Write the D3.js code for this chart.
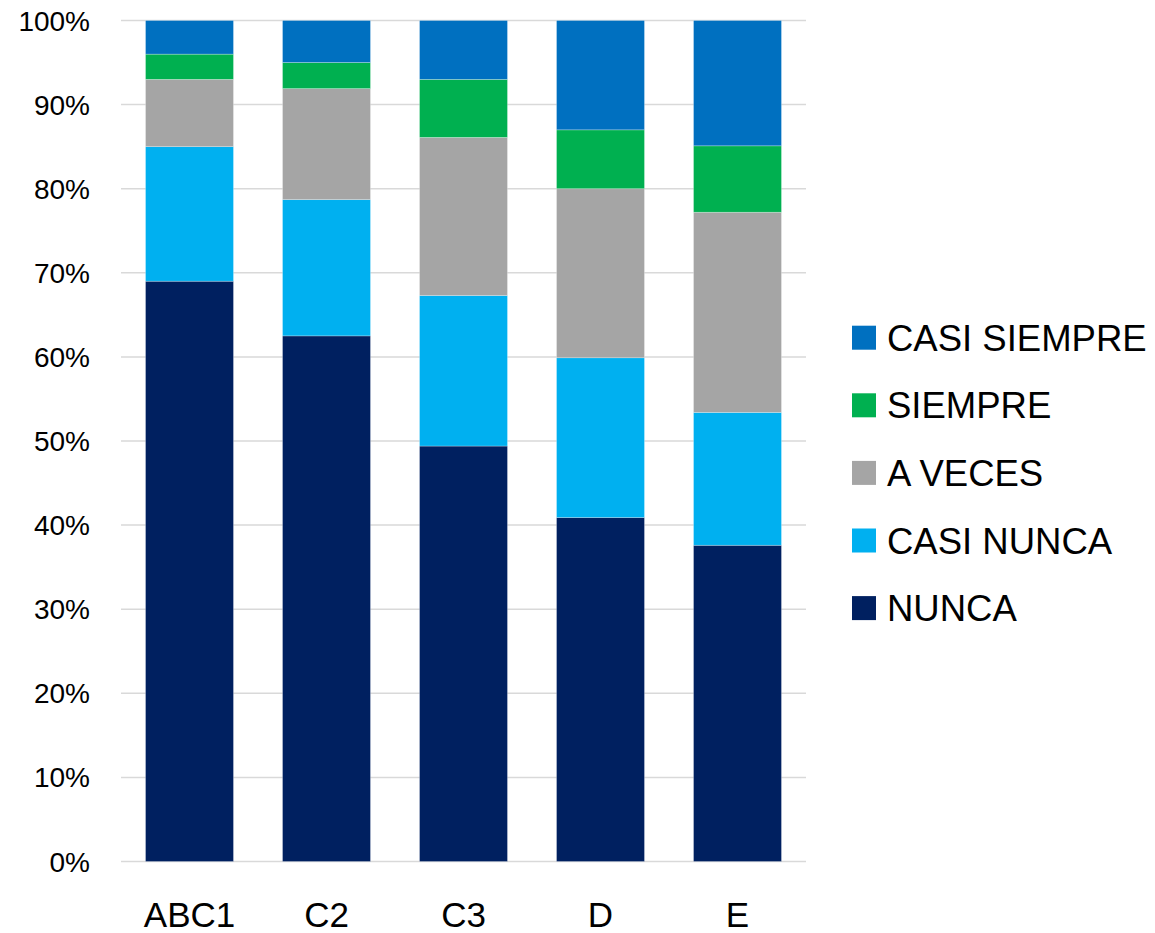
<!DOCTYPE html>
<html>
<head>
<meta charset="utf-8">
<script src="https://cdn.jsdelivr.net/npm/d3@7"></script>
<style>
  body { margin: 0; background: #fff; }
  text { font-family: "Liberation Sans", Arial, sans-serif; fill: #000; }
</style>
</head>
<body>
<svg id="chart" width="1155" height="933"></svg>
<script>
// categories and series (percent of each group)
var categories = ["ABC1", "C2", "C3", "D", "E"];
var seriesNames = ["NUNCA", "CASI NUNCA", "A VECES", "SIEMPRE", "CASI SIEMPRE"];
var nunca       = [69.0, 62.5, 49.4, 40.9, 37.6];
var casiNunca   = [16.0, 16.2, 17.9, 19.0, 15.8];
var aVeces      = [8.0, 13.2, 18.8, 20.1, 23.8];
var siempre     = [3.0, 3.1, 6.9, 7.0, 7.9];
var casiSiempre = [4.0, 5.0, 7.0, 13.0, 14.9];
var tickValues  = [0, 10, 20, 30, 40, 50, 60, 70, 80, 90, 100];
var colors = ["#002060", "#00B0F0", "#A5A5A5", "#00B050", "#0070C0"];

var seriesValues = [nunca, casiNunca, aVeces, siempre, casiSiempre];
var rows = categories.map(function(c, i) {
  var r = { cat: c };
  seriesNames.forEach(function(s, j) { r[s] = seriesValues[j][i]; });
  return r;
});

var svg = d3.select("#chart");
var plot = { left: 121, right: 806, top: 20.5, bottom: 861.5 };

var x = d3.scaleBand()
  .domain(categories)
  .range([plot.left, plot.right])
  .paddingInner(0.358)
  .paddingOuter(0.179);

var y = d3.scaleLinear()
  .domain([0, 100])
  .range([plot.bottom, plot.top]);

// gridlines
svg.append("g")
  .selectAll("line")
  .data(tickValues)
  .enter().append("line")
    .attr("x1", plot.left)
    .attr("x2", plot.right)
    .attr("y1", function(d) { return y(d); })
    .attr("y2", function(d) { return y(d); })
    .attr("stroke", "#d9d9d9")
    .attr("stroke-width", 1.5);

// y labels
svg.append("g")
  .selectAll("text")
  .data(tickValues)
  .enter().append("text")
    .attr("x", 90)
    .attr("y", function(d) { return y(d); })
    .attr("dy", "0.36em")
    .attr("text-anchor", "end")
    .style("font-size", "28px")
    .text(function(d) { return d + "%"; });

// stacked bars
var stack = d3.stack().keys(seriesNames);
var layers = stack(rows);

svg.append("g")
  .selectAll("g")
  .data(layers)
  .enter().append("g")
    .attr("fill", function(d, i) { return colors[i]; })
  .selectAll("rect")
  .data(function(d) { return d; })
  .enter().append("rect")
    .attr("x", function(d) { return x(d.data.cat); })
    .attr("y", function(d) { return y(d[1]); })
    .attr("height", function(d) { return y(d[0]) - y(d[1]); })
    .attr("width", x.bandwidth())
    .attr("stroke", "#ffffff")
    .attr("stroke-opacity", 0.35)
    .attr("stroke-width", 0.75);

// x labels
svg.append("g")
  .selectAll("text")
  .data(categories)
  .enter().append("text")
    .attr("x", function(d) { return x(d) + x.bandwidth() / 2; })
    .attr("y", 926.5)
    .attr("text-anchor", "middle")
    .style("font-size", "35px")
    .text(function(d) { return d; });

// legend (top entry = last series)
var legendItems = seriesNames.slice().reverse();
var legend = svg.append("g")
  .selectAll("g")
  .data(legendItems)
  .enter().append("g")
    .attr("transform", function(d, i) { return "translate(852," + (337.7 + i * 67.6) + ")"; });

legend.append("rect")
  .attr("x", 0)
  .attr("y", -12)
  .attr("width", 24)
  .attr("height", 24)
  .attr("fill", function(d) { return colors[seriesNames.indexOf(d)]; });

legend.append("text")
  .attr("x", 35)
  .attr("y", 0)
  .attr("dy", "0.36em")
  .style("font-size", "36.5px")
  .text(function(d) { return d; });
</script>
</body>
</html>
